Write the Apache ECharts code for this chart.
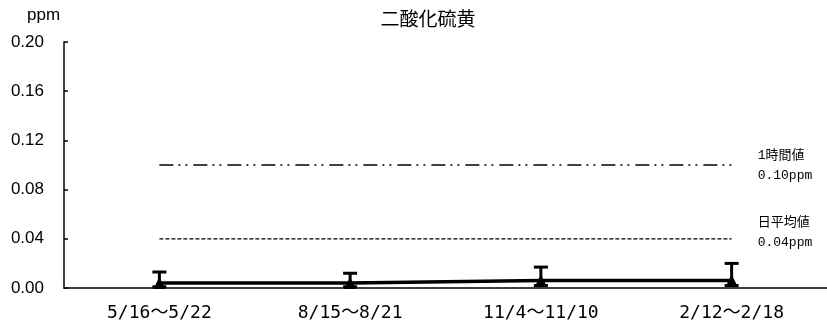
<!DOCTYPE html>
<html>
<head>
<meta charset="utf-8">
<script src="https://cdn.jsdelivr.net/npm/echarts@6/dist/echarts.min.js"></script>
<style>
  html, body { margin: 0; padding: 0; background: #fff; }
  #main { width: 827px; height: 331px; }
</style>
</head>
<body>
<div id="main"></div>
<script>
// データ
const periods = ["5/16〜5/22", "8/15〜8/21", "11/4〜11/10", "2/12〜2/18"];
const meanValues = [0.004, 0.004, 0.006, 0.006];
const minValues = [0.001, 0.001, 0.002, 0.002];
const maxValues = [0.013, 0.012, 0.017, 0.020];
const hourlyLimit = [0.10, 0.10, 0.10, 0.10];
const dailyLimit = [0.04, 0.04, 0.04, 0.04];

const myChart = echarts.init(document.getElementById("main"));

const errorData = periods.map((p, i) => [i, minValues[i], maxValues[i]]);

const option = {
  animation: false,
  title: {
    text: "二酸化硫黄",
    left: 423,
    textAlign: "center",
    top: 4,
    textStyle: { fontFamily: "Noto Sans CJK JP", fontSize: 19, fontWeight: "normal", color: "#000" },
  },
  graphic: [
    {
      type: "text",
      left: 27,
      top: 7,
      style: { text: "ppm", font: "17px 'Liberation Sans'", fill: "#000" },
    },
  ],
  grid: { left: 64, top: 42, right: -7, bottom: 43 },
  xAxis: {
    type: "category",
    data: periods,
    boundaryGap: true,
    axisLine: { lineStyle: { color: "#000", width: 1.5 } },
    axisTick: { inside: true, length: 6, lineStyle: { color: "#000", width: 1.5 } },
    axisLabel: { color: "#000", fontSize: 18, fontFamily: "DejaVu Sans Mono, Noto Sans CJK JP", margin: 16 },
  },
  yAxis: {
    type: "value",
    min: 0,
    max: 0.2,
    interval: 0.04,
    splitLine: { show: false },
    axisLine: { show: true, lineStyle: { color: "#000", width: 1.5 } },
    axisTick: { show: true, inside: true, length: 4, lineStyle: { color: "#000", width: 1.5 } },
    axisLabel: {
      color: "#000",
      fontSize: 17,
      fontFamily: "Liberation Sans",
      margin: 20,
      formatter: (v) => v.toFixed(2),
    },
  },
  series: [
    {
      name: "1時間値",
      type: "line",
      data: hourlyLimit,
      symbol: "none",
      lineStyle: { color: "#000", width: 1.5, type: [14, 5, 2, 5, 2, 6] },
      endLabel: {
        show: true,
        formatter: "1時間値\n0.10ppm",
        fontFamily: "Liberation Mono, Noto Sans CJK JP",
        fontSize: 13,
        lineHeight: 20,
        color: "#000",
        align: "left",
        verticalAlign: "middle",
        offset: [18, 1],
      },
      silent: true,
    },
    {
      name: "日平均値",
      type: "line",
      data: dailyLimit,
      symbol: "none",
      lineStyle: { color: "#000", width: 1.2, type: [4, 2] },
      endLabel: {
        show: true,
        formatter: "日平均値\n0.04ppm",
        fontFamily: "Liberation Mono, Noto Sans CJK JP",
        fontSize: 13,
        lineHeight: 20,
        color: "#000",
        align: "left",
        verticalAlign: "middle",
        offset: [18, -6],
      },
      silent: true,
    },
    {
      name: "最小〜最大",
      type: "custom",
      data: errorData,
      z: 3,
      renderItem: function (params, api) {
        const x = api.coord([api.value(0), 0])[0];
        const lo = api.coord([api.value(0), api.value(1)])[1];
        const hi = api.coord([api.value(0), api.value(2)])[1];
        const half = 7;
        const style = { stroke: "#000", lineWidth: 3 };
        return {
          type: "group",
          children: [
            { type: "line", shape: { x1: x, y1: lo, x2: x, y2: hi }, style: style },
            { type: "line", shape: { x1: x - half, y1: hi, x2: x + half, y2: hi }, style: style },
            { type: "line", shape: { x1: x - half, y1: lo, x2: x + half, y2: lo }, style: style },
          ],
        };
      },
    },
    {
      name: "平均値",
      type: "line",
      data: meanValues,
      z: 4,
      symbol: "triangle",
      symbolSize: 12,
      itemStyle: { color: "#000" },
      lineStyle: { color: "#000", width: 3.5 },
    },
  ],
};

myChart.setOption(option);
</script>
</body>
</html>
